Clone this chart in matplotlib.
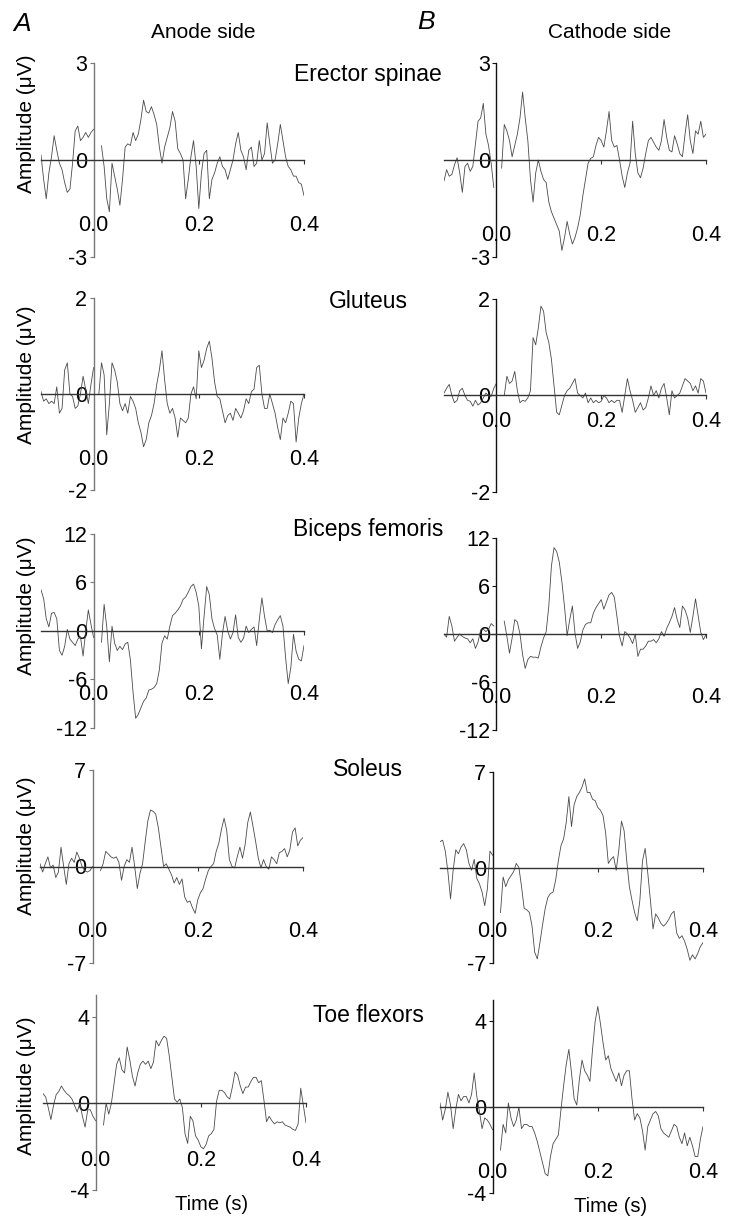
import numpy as np
import matplotlib
matplotlib.use("Agg")
import matplotlib.pyplot as plt

plt.rcParams["font.family"] = ["Liberation Sans", "DejaVu Sans"]

nan = np.nan
# time grid of the traces (s)
time = np.round(np.arange(-0.1, 0.4001, 0.005), 3)

muscles = ["Erector spinae", "Gluteus", "Biceps femoris", "Soleus", "Toe flexors"]
ylims = [(-3, 3), (-2, 2), (-12, 12), (-7, 7), (-4, 5)]
yticks = [[-3, 0, 3], [-2, 0, 2], [-12, -6, 0, 6, 12], [-7, 0, 7], [-4, 0, 4]]
xticks = [0.0, 0.2, 0.4]
xticklabels = ["0.0", "0.2", "0.4"]

# amplitude (uV), anode side
anode_erector = [
    0.15, -0.6, -1.2, -0.4, 0.1, 0.75, 0.3, -0.1, -0.3, -0.7,
    -1.0, -0.9, -0.1, 0.9, 1.05, 0.6, 0.7, 0.85, 0.7, 0.85,
    0.95, nan, nan, 0.44, -0.2, -1.2, -1.6, -0.1, -0.5, -0.9,
    -1.4, -0.6, 0.4, 0.5, 0.45, 0.85, 0.6, 0.8, 1.26, 1.85,
    1.5, 1.45, 1.65, 1.4, 1.1, 0.4, -0.1, 0.4, 0.7, 1.0,
    1.5, 1.2, 0.35, 0.2, 0.0, -1.2, -0.6, 0.1, 0.6, -0.2,
    -1.5, -0.4, 0.2, 0.3, -1.2, -0.6, -0.4, -0.1, 0.1, -0.2,
    -0.3, -0.6, -0.3, 0.0, 0.5, 0.85, 0.3, 0.1, -0.3, 0.3,
    0.4, -0.2, -0.1, 0.6, 0.0, 0.2, 1.15, 0.5, -0.1, 0.0,
    0.5, 1.1, 0.6, 0.1, -0.2, -0.3, -0.5, -0.5, -0.7, -0.75,
    -1.1]
anode_gluteus = [
    0.05, -0.15, -0.1, -0.2, -0.15, -0.2, 0.15, -0.4, -0.3, 0.5,
    0.65, 0.0, -0.05, -0.3, -0.25, 0.0, 0.37, 0.1, -0.2, 0.2,
    0.55, nan, 0.0, 0.65, 0.4, -0.85, -0.2, 0.65, 0.5, 0.25,
    -0.2, -0.35, -0.2, -0.4, -0.05, -0.15, -0.3, -0.6, -0.8, -1.1,
    -0.95, -0.6, -0.45, -0.2, 0.2, 0.5, 0.9, 0.3, -0.2, -0.4,
    -0.3, -0.5, -0.9, -0.5, -0.55, -0.6, -0.5, 0.0, 0.15, -0.1,
    0.9, 0.55, 0.7, 0.95, 1.1, 0.75, 0.25, -0.05, -0.1, -0.35,
    -0.6, -0.45, -0.4, -0.55, -0.3, -0.4, -0.5, -0.35, -0.1, -0.2,
    0.05, 0.1, 0.55, 0.6, 0.0, -0.3, -0.3, 0.0, -0.2, -0.4,
    -0.7, -0.95, -0.5, -0.6, -0.4, -0.15, -0.2, -1.0, -0.5, -0.2,
    0.0]
anode_biceps = [
    5.1, 4.0, 1.5, 0.5, 2.2, 2.3, 1.5, -2.4, -3.0, -1.9,
    0.2, -1.0, -1.4, -1.8, -1.0, -0.7, -3.1, 0.0, 2.6, 0.8,
    -0.8, nan, nan, -1.4, 3.3, 0.5, -3.8, 0.6, -1.5, -2.4,
    -1.9, -2.3, -1.6, -1.4, -3.6, -7.6, -10.8, -10.3, -9.5, -8.7,
    -8.3, -7.3, -7.2, -7.0, -6.5, -4.8, -1.5, -0.6, -1.0, 0.6,
    1.9, 2.2, 2.6, 3.1, 3.9, 4.2, 4.8, 5.5, 5.8, 4.8,
    3.1, -2.2, 1.8, 5.5, 4.5, 1.5, 0.3, -0.5, -3.5, -0.3,
    1.8, 0.0, -1.0, -0.2, 2.0, -0.8, -1.4, -0.9, 0.6, -0.2,
    0.2, 0.5, -1.8, 1.4, 4.1, 1.8, 0.0, 0.1, -0.2, 0.8,
    1.4, 1.9, 0.6, -3.3, -6.5, -4.5, -0.4, -2.5, -3.5, -3.7,
    -1.8]
anode_soleus = [
    0.2, -0.4, 0.2, 0.7, -0.1, 0.1, -0.8, -0.4, 1.4, 0.0,
    -1.3, 0.2, 0.6, 0.3, 1.05, 0.6, 0.0, -0.3, -0.4, -0.3,
    0.0, nan, nan, -0.3, 0.2, 1.1, 0.9, 0.7, 0.6, 0.7,
    0.3, -1.0, 0.0, 0.5, 0.3, 1.4, 0.0, -1.6, -0.5, 0.2,
    1.8, 3.3, 4.1, 4.0, 3.8, 2.8, 1.4, 0.0, 0.2, -0.2,
    -0.6, -1.2, -0.8, -1.3, -0.9, -2.2, -2.6, -2.5, -3.0, -3.4,
    -2.4, -1.9, -1.6, -0.9, -0.3, 0.0, 0.2, 1.1, 1.7, 2.7,
    3.5, 2.6, 0.5, 0.0, -0.1, 0.7, 1.4, 0.6, 1.6, 3.2,
    3.95, 2.9, 1.8, 0.6, -0.1, 0.5, 0.0, -0.2, 0.7, 0.5,
    0.2, 1.0, 1.1, 1.3, 0.7, 1.2, 2.5, 2.8, 1.5, 1.9,
    2.1]
anode_toe = [
    0.45, 0.3, -0.2, -0.75, -0.1, 0.4, 0.55, 0.8, 0.6, 0.45,
    0.35, 0.2, -0.1, -0.4, 0.0, -0.6, -1.1, -0.3, -0.3, -0.6,
    -0.8, nan, nan, -1.0, 0.0, -0.5, 0.0, 0.9, 1.8, 2.1,
    1.55, 1.4, 2.6, 2.0, 1.25, 0.8, 1.4, 1.8, 1.95, 1.8,
    1.95, 1.6, 1.9, 2.9, 2.65, 2.9, 3.1, 3.0, 2.2, 1.2,
    0.2, 0.05, 0.2, -0.2, -1.4, -1.85, -0.6, -0.8, -1.5, -1.7,
    -2.0, -2.1, -1.9, -1.5, -1.4, -1.2, 0.1, 0.6, 0.6, 0.5,
    0.3, 0.2, 0.75, 1.45, 1.3, 0.8, 0.45, 0.75, 0.75, 1.0,
    1.2, 1.2, 0.95, 1.05, 0.15, -0.85, -0.6, -0.8, -0.95, -0.85,
    -0.9, -0.85, -1.0, -1.05, -1.1, -1.2, -1.25, -0.95, 0.7, -0.1,
    -0.9]

# amplitude (uV), cathode side
cathode_erector = [
    -0.65, -0.3, -0.5, -0.45, -0.15, 0.07, -0.4, -1.0, -0.2, -0.1,
    -0.35, -0.2, 0.5, 1.2, 1.3, 1.75, 0.8, 0.45, -0.1, -0.85,
    nan, nan, -0.25, 1.1, 0.9, 0.6, 0.1, 0.45, 0.8, 1.3,
    2.1, 1.3, 0.6, -0.6, -1.3, -0.4, 0.0, -0.35, -0.6, -0.7,
    -1.3, -1.6, -1.8, -2.0, -2.2, -2.8, -2.4, -1.9, -2.3, -2.6,
    -2.4, -2.1, -1.7, -1.1, -0.6, -0.1, 0.05, 0.1, 0.45, 0.7,
    0.6, 0.4, 0.9, 1.5, 0.6, 0.4, 0.45, 0.0, -0.5, -0.85,
    -0.4, -0.1, 1.2, 0.2, -0.4, -0.55, -0.25, 0.2, 0.6, 0.7,
    0.55, 0.4, 0.3, 0.6, 1.25, 0.7, 0.3, 0.25, 0.75, 0.5,
    0.2, 0.1, 0.8, 1.4, 0.6, 0.2, 0.9, 0.8, 1.2, 0.7,
    0.8]
cathode_gluteus = [
    0.05, 0.15, 0.23, 0.0, -0.15, -0.1, 0.1, 0.15, 0.0, -0.1,
    -0.12, -0.22, -0.1, -0.2, -0.15, -0.05, 0.05, 0.0, -0.02, 0.15,
    0.25, nan, nan, 0.0, 0.4, 0.25, 0.3, 0.5, 0.1, -0.15,
    -0.1, -0.12, -0.05, 0.1, 1.2, 1.05, 1.4, 1.85, 1.75, 1.3,
    1.1, 0.75, 0.2, -0.35, -0.4, -0.2, 0.0, 0.1, 0.15, 0.25,
    0.35, 0.05, 0.0, -0.05, 0.05, -0.15, -0.05, -0.15, -0.1, -0.15,
    -0.12, 0.0, -0.05, -0.15, -0.1, -0.15, -0.1, -0.1, -0.35, 0.0,
    0.35, 0.1, -0.1, -0.35, -0.25, -0.15, -0.3, -0.25, -0.05, 0.2,
    0.0, 0.1, -0.05, 0.15, 0.25, -0.05, -0.4, 0.1, -0.05, 0.0,
    0.05, 0.2, 0.35, 0.3, 0.25, 0.1, 0.2, 0.05, 0.35, 0.3,
    0.05]
cathode_biceps = [
    0.0, -0.4, 2.2, 1.0, -0.9, -0.4, 0.0, -0.3, -0.5, -0.6,
    -1.1, -0.6, -1.8, -1.0, 0.5, 0.6, 0.3, 0.6, 1.3, 1.0,
    nan, nan, nan, 1.6, -0.3, -2.4, -0.5, 1.8, 1.5, 0.0,
    -2.6, -4.3, -3.2, -2.8, -2.9, -2.9, -3.0, -1.6, -0.5, 0.3,
    3.5, 8.5, 10.8, 10.3, 9.0, 6.5, 3.4, -0.2, 1.8, 3.5,
    0.1, -1.8, -1.0, 0.5, 1.2, 1.4, 1.4, 2.6, 3.3, 3.8,
    4.3, 3.1, 4.0, 4.9, 5.2, 4.6, 2.2, -0.3, -1.5, 0.3,
    0.0, -0.5, -1.2, 0.0, -2.8, -1.9, -1.9, -1.5, -0.9, -0.9,
    -0.7, -1.1, -0.6, 0.3, -0.3, 0.7, 1.4, 2.2, 3.3, 1.8,
    0.8, 3.5, 3.0, 2.0, 0.2, 2.2, 4.4, 2.3, 0.2, -0.7,
    -0.1]
cathode_soleus = [
    1.9, 2.0, 1.2, -0.3, -2.3, -0.2, 1.3, 1.0, 1.5, 1.75,
    1.3, 0.3, -0.2, 0.6, -0.8, -1.2, -1.8, -2.8, -1.6, 1.2,
    0.9, nan, nan, -3.3, -0.7, -1.4, -0.9, -0.6, -0.3, 0.3,
    0.0, -1.4, -3.0, -3.1, -3.3, -4.3, -6.2, -6.7, -5.5, -4.2,
    -3.0, -2.2, -1.9, -1.8, -0.9, 0.5, 1.6, 2.1, 3.3, 5.2,
    3.0, 4.6, 5.2, 5.5, 5.9, 6.5, 5.5, 5.5, 5.0, 4.9,
    4.4, 4.2, 3.8, 2.5, 0.3, 0.6, 0.8, -0.2, 1.3, 3.4,
    2.7, 0.5, -1.4, -2.4, -3.3, -3.9, -2.4, 0.5, 1.4, -0.4,
    -2.4, -4.5, -3.4, -3.7, -4.1, -4.3, -4.1, -3.8, -3.4, -3.2,
    -4.8, -5.2, -5.0, -5.4, -6.0, -6.8, -6.4, -6.7, -6.3, -5.8,
    -5.5]
cathode_toe = [
    0.2, -0.6, -0.1, 0.7, 0.1, -1.0, -0.1, 0.6, 0.3, 0.5,
    0.5, 0.2, 0.6, 1.6, 0.5, -0.2, -1.0, -0.5, -0.6, -0.8,
    -1.05, nan, nan, -2.0, -0.8, -1.2, 0.2, -0.5, -0.9, -0.6,
    0.0, -1.0, -0.8, -0.8, -0.9, -0.9, -1.2, -1.6, -2.1, -2.6,
    -3.1, -3.2, -2.3, -1.7, -1.5, -1.3, -0.1, 1.0, 2.0, 2.7,
    1.6, 0.4, 0.1, 1.3, 2.2, 1.7, 1.5, 1.2, 2.7, 4.0,
    4.7, 3.9, 3.0, 2.2, 2.4, 1.8, 1.5, 1.2, 1.6, 1.0,
    1.5, 1.7, 1.7, 0.4, -0.6, -0.3, -0.5, -1.1, -2.0, -0.9,
    -0.6, -0.3, -0.2, -0.4, -1.0, -1.2, -1.3, -1.4, -1.1, -0.8,
    -0.9, -1.4, -1.7, -1.2, -1.8, -1.4, -1.8, -2.3, -2.3, -1.5,
    -0.9]

anode = [anode_erector, anode_gluteus, anode_biceps, anode_soleus, anode_toe]
cathode = [cathode_erector, cathode_gluteus, cathode_biceps, cathode_soleus, cathode_toe]

# layout in pixels: (left, right, top, bottom) of each axes box
W, H = 732, 1219
boxes_a = [(41, 304, 63, 257), (41, 304, 298, 490), (41, 304, 534, 728),
           (40, 303, 770, 963), (43, 306, 995, 1190)]
boxes_b = [(444, 706, 63, 257), (444, 706, 299, 492), (444, 706, 538, 730),
           (440, 703, 772, 963), (440, 703, 1000, 1193)]
xlab_a = [-2.04, -1.37, -7.8, -4.7, -2.64]
xlab_b = [-2.35, -0.54, -7.9, -4.7, -3.04]
name_y = [75, 301, 530, 770, 1015]
ylabel_y = [124, 375, 606, 846, 1086]

fig = plt.figure(figsize=(W / 100, H / 100), dpi=100)


def draw(ax, values, ylim, ticks, xlab_y, spine_col):
    ax.plot(time, values, color="#4a4a4a", lw=0.6)
    ax.set_xlim(-0.1, 0.4)
    ax.set_ylim(*ylim)
    ax.set_facecolor("none")
    for s in ["top", "right"]:
        ax.spines[s].set_visible(False)
    ax.spines["left"].set_position(("data", 0))
    ax.spines["bottom"].set_position(("data", 0))
    ax.spines["left"].set_color(spine_col)
    ax.spines["bottom"].set_color("#333333")
    ax.spines["left"].set_linewidth(1.0)
    ax.spines["bottom"].set_linewidth(1.0)
    ax.set_yticks(ticks)
    ax.set_yticklabels([str(t) for t in ticks], fontsize=15.5)
    ax.tick_params(axis="y", length=3, width=0.8, pad=1.5, color=spine_col)
    ax.set_xticks([0.2, 0.4])
    ax.set_xticklabels([])
    ax.tick_params(axis="x", length=3, width=0.8, color="#333333")
    for t, lab in zip(xticks, xticklabels):
        ax.text(t, xlab_y, lab, ha="center", va="center", fontsize=15.5)


def add_axes(box):
    l, r, t, b = box
    return fig.add_axes([l / W, 1 - b / H, (r - l) / W, (b - t) / H])


for i in range(5):
    ax_a = add_axes(boxes_a[i])
    draw(ax_a, anode[i], ylims[i], yticks[i], xlab_a[i], "#777777")
    ax_b = add_axes(boxes_b[i])
    draw(ax_b, cathode[i], ylims[i], yticks[i], xlab_b[i], "#111111")
    fig.text(368 / W, 1 - name_y[i] / H, muscles[i], ha="center", va="center", fontsize=16.5)
    fig.text(27 / W, 1 - ylabel_y[i] / H, "Amplitude (\u03bcV)", rotation=90,
             ha="center", va="center", fontsize=15)

fig.text(22 / W, 1 - 24 / H, "A", style="italic", ha="center", va="center", fontsize=19)
fig.text(426 / W, 1 - 22 / H, "B", style="italic", ha="center", va="center", fontsize=19)
fig.text(203 / W, 1 - 32 / H, "Anode side", ha="center", va="center", fontsize=15)
fig.text(610 / W, 1 - 32 / H, "Cathode side", ha="center", va="center", fontsize=15)
fig.text(212 / W, 1 - 1204 / H, "Time (s)", ha="center", va="center", fontsize=14.5)
fig.text(611 / W, 1 - 1207 / H, "Time (s)", ha="center", va="center", fontsize=14.5)

fig.savefig("out.png", dpi=100)
